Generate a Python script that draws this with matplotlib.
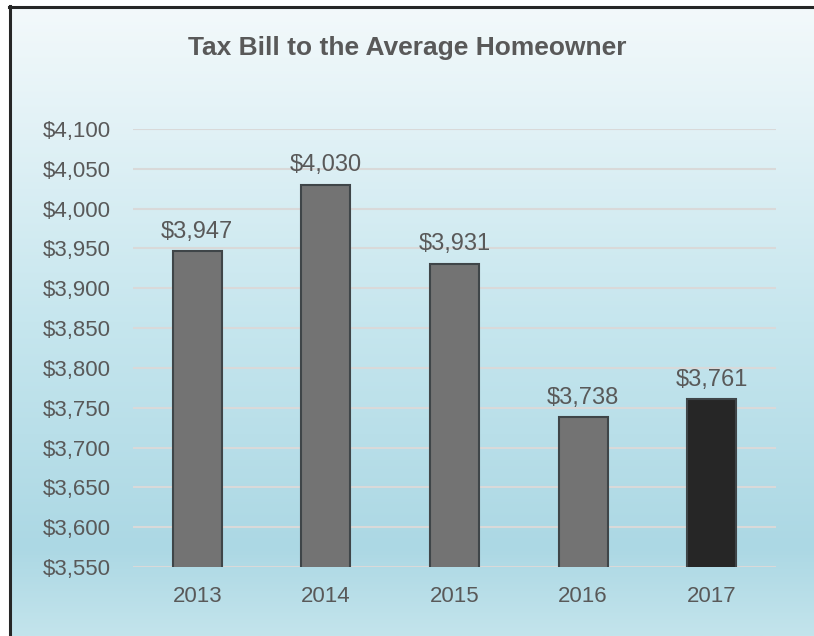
import matplotlib
matplotlib.use("Agg")
import matplotlib.pyplot as plt
import numpy as np
from matplotlib.colors import LinearSegmentedColormap
from matplotlib.ticker import FuncFormatter, MultipleLocator

plt.rcParams["font.family"] = ["Liberation Sans", "DejaVu Sans"]

years = ["2013", "2014", "2015", "2016", "2017"]
tax_bill = [3947, 4030, 3931, 3738, 3761]
bar_colors = ["#737373", "#737373", "#737373", "#737373", "#262626"]

text_color = "#595959"

fig = plt.figure(figsize=(8.14, 6.36), dpi=100)

# gradient backdrop inside the frame
bg = fig.add_axes([10 / 814, 0, 1 - 10 / 814, 1 - 7 / 636])
bg.set_axis_off()
cmap = LinearSegmentedColormap.from_list(
    "sky", [(0.0, "#c3e4ec"), (0.14, "#acd8e4"), (0.5, "#c6e6ee"), (1.0, "#f3f9fb")])
grad = np.linspace(0, 1, 256).reshape(-1, 1)
bg.imshow(grad, aspect="auto", cmap=cmap, origin="lower", extent=[0, 1, 0, 1])
bg.set_xlim(0, 1)
bg.set_ylim(0, 1)

# frame lines on the left and top
fig.add_artist(plt.Line2D([10 / 814, 10 / 814], [0, 1 - 6 / 636], transform=fig.transFigure,
                          color="#262626", lw=2.2))
fig.add_artist(plt.Line2D([9 / 814, 1], [1 - 7 / 636, 1 - 7 / 636], transform=fig.transFigure,
                          color="#262626", lw=2.2))

ax = fig.add_axes([133 / 814, 69 / 636, 643 / 814, 438 / 636])
ax.patch.set_alpha(0)

x = np.arange(len(years))
bars = ax.bar(x, tax_bill, width=0.38, color=bar_colors, edgecolor="#3f4548",
              linewidth=1.5, zorder=3)

for xi, v in zip(x, tax_bill):
    ax.annotate("${:,}".format(v), (xi, v), xytext=(0, 6), textcoords="offset points",
                ha="center", va="bottom", fontsize=17, color=text_color)

ax.set_ylim(3550, 4100)
ax.set_xlim(-0.5, len(years) - 0.5)
ax.yaxis.set_major_locator(MultipleLocator(50))
ax.yaxis.set_major_formatter(FuncFormatter(lambda v, p: "${:,.0f}".format(v)))
ax.set_xticks(x)
ax.set_xticklabels(years)
ax.grid(axis="y", color="#d9d9d9", lw=1.5, zorder=0)
ax.tick_params(axis="both", length=0, labelsize=16, labelcolor=text_color)
ax.tick_params(axis="y", pad=16)
ax.tick_params(axis="x", pad=14)
for s in ax.spines.values():
    s.set_visible(False)

fig.text(0.5, 1 - 48 / 636, "Tax Bill to the Average Homeowner", ha="center", va="center",
         fontsize=19, fontweight="bold", color=text_color)

fig.savefig("out.png", dpi=100)
